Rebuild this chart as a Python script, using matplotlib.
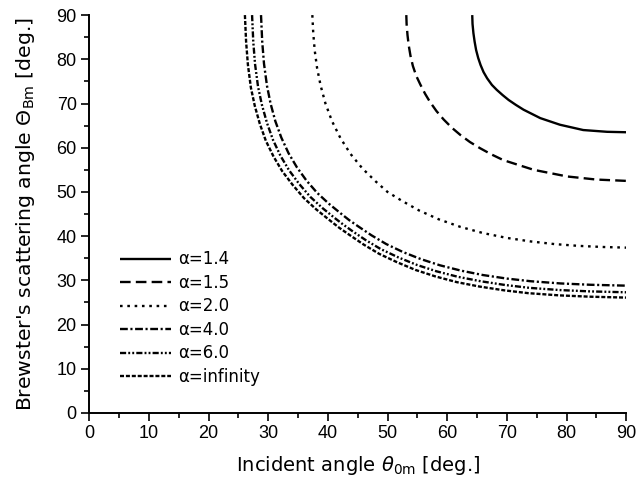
import matplotlib
matplotlib.use("Agg")
import matplotlib.pyplot as plt
from matplotlib.ticker import MultipleLocator

plt.rcParams['font.family'] = ['Liberation Sans', 'DejaVu Sans']
plt.rcParams['mathtext.fontset'] = 'dejavusans'

# alpha = 1.4
x_a14 = [64.2, 64.25, 64.4, 64.6, 64.85, 65.2, 65.6, 66.1, 66.7, 67.5, 68.3, 69.3, 70.3, 71.5,
         72.8, 75.6, 78.9, 82.8, 86.8, 90]
y_a14 = [90, 88, 85.9, 84, 82.1, 80.3, 78.7, 77.1, 75.7, 74.2, 73.1, 71.9, 70.8, 69.7,
         68.6, 66.7, 65.2, 64.0, 63.6, 63.5]
# alpha = 1.5
x_a15 = [53.15, 53.2, 53.35, 53.55, 53.85, 54.25, 54.8, 55.5, 56.3, 57.1, 58.2, 59.4, 60.8, 62.2,
         63.8, 65.5, 67.4, 69.4, 74.5, 80.1, 85.0, 90]
y_a15 = [90, 88, 85.5, 83.2, 80.8, 78.5, 76.3, 74.3, 72.2, 70.4, 68.3, 66.4, 64.5, 62.9,
         61.3, 59.9, 58.5, 57.2, 55.0, 53.5, 52.8, 52.5]
# alpha = 2.0
x_a20 = [37.4, 37.55, 37.8, 38.2, 38.8, 39.6, 40.7, 42.1, 43.8, 45.8, 48.0, 50.0, 52.4, 55.3,
         58.6, 62.2, 66, 70, 74, 78, 82, 86, 90]
y_a20 = [90, 86, 82, 78, 74, 70, 66, 62.2, 58.6, 55.3, 52.4, 50.0, 48.0, 45.8,
         43.8, 42.1, 40.7, 39.6, 38.8, 38.2, 37.8, 37.55, 37.4]
# alpha = 4.0
x_a40 = [28.8, 29.0, 29.3, 29.8, 30.4, 31.2, 32.2, 33.4, 34.8, 36.4, 38.2, 40.2, 42.2, 43.6,
         45.1, 47.3, 49.8, 52.6, 55.6, 58.8, 62.3, 66, 70, 74, 79, 84, 90]
y_a40 = [90, 84, 79, 74, 70, 66, 62.3, 58.8, 55.6, 52.6, 49.8, 47.3, 45.1, 43.6,
         42.2, 40.2, 38.2, 36.4, 34.8, 33.4, 32.2, 31.2, 30.4, 29.8, 29.3, 29.0, 28.8]
# alpha = 6.0
x_a60 = [27.3, 27.5, 27.8, 28.3, 28.95, 29.8, 30.8, 32.05, 33.5, 35.2, 37.05, 39.1, 41.15, 42.6,
         44.1, 46.35, 48.9, 51.8, 54.9, 58.2, 61.8, 65.6, 69.7, 73.8, 78.9, 84, 90]
y_a60 = [90, 84, 78.9, 73.8, 69.7, 65.6, 61.8, 58.2, 54.9, 51.8, 48.9, 46.35, 44.1, 42.6,
         41.15, 39.1, 37.05, 35.2, 33.5, 32.05, 30.8, 29.8, 28.95, 28.3, 27.8, 27.5, 27.3]
# alpha = infinity
x_inf = [26.1, 26.3, 26.6, 27.1, 27.75, 28.6, 29.6, 30.9, 32.35, 34.1, 36.0, 38.1, 40.3, 41.9,
         43.6, 46.0, 48.6, 51.6, 54.7, 58.0, 61.6, 65.4, 69.5, 73.6, 78.8, 84, 90]
y_inf = [90, 84, 78.8, 73.6, 69.5, 65.4, 61.6, 58.0, 54.7, 51.6, 48.6, 46.0, 43.6, 41.9,
         40.3, 38.1, 36.0, 34.1, 32.35, 30.9, 29.6, 28.6, 27.75, 27.1, 26.6, 26.3, 26.1]

labels = ["α=1.4", "α=1.5", "α=2.0", "α=4.0", "α=6.0", "α=infinity"]
ticks = [0, 10, 20, 30, 40, 50, 60, 70, 80, 90]

fig = plt.figure(figsize=(6.37, 4.87), dpi=100)
ax = fig.add_axes([0.140, 0.152, 0.843, 0.817])

lw = 1.7
series = [(x_a14, y_a14, None), (x_a15, y_a15, (4.5, 2.2)), (x_a20, y_a20, (1.1, 2.0)),
          (x_a40, y_a40, (3.3, 1.1, 0.9, 1.1)), (x_a60, y_a60, (2.6, 0.9, 0.8, 0.9, 0.8, 0.9)),
          (x_inf, y_inf, (1.7, 0.8))]
for (xs, ys, d), lab in zip(series, labels):
    line, = ax.plot(xs, ys, color='black', lw=lw, label=lab, solid_capstyle='butt',
                    dash_capstyle='butt', solid_joinstyle='round')
    if d is not None:
        line.set_dashes(d)

ax.set_xlim(0, 90)
ax.set_ylim(0, 90)
ax.set_xticks(ticks)
ax.set_yticks(ticks)
ax.xaxis.set_minor_locator(MultipleLocator(5))
ax.yaxis.set_minor_locator(MultipleLocator(5))
for s in ['top', 'right']:
    ax.spines[s].set_visible(False)
for s in ['left', 'bottom']:
    ax.spines[s].set_linewidth(1.4)
ax.tick_params(which='major', direction='out', length=6, width=1.2, labelsize=13, pad=3)
ax.tick_params(which='minor', direction='out', length=3.5, width=1.2)

ax.set_xlabel(r"Incident angle $\theta_{\mathrm{0m}}$ [deg.]", fontsize=14, labelpad=8,
              family=['DejaVu Sans'])
ax.set_ylabel(r"Brewster's scattering angle $\Theta_{\mathrm{Bm}}$ [deg.]", fontsize=14.7,
              labelpad=14, family=['DejaVu Sans'])

leg = ax.legend(loc='lower left', bbox_to_anchor=(0.057, 0.068), frameon=False,
                prop={'family': ['DejaVu Sans'], 'size': 12},
                handlelength=3.1, handletextpad=0.42, labelspacing=0.33, borderaxespad=0,
                borderpad=0)

fig.savefig("out.png", dpi=100)
